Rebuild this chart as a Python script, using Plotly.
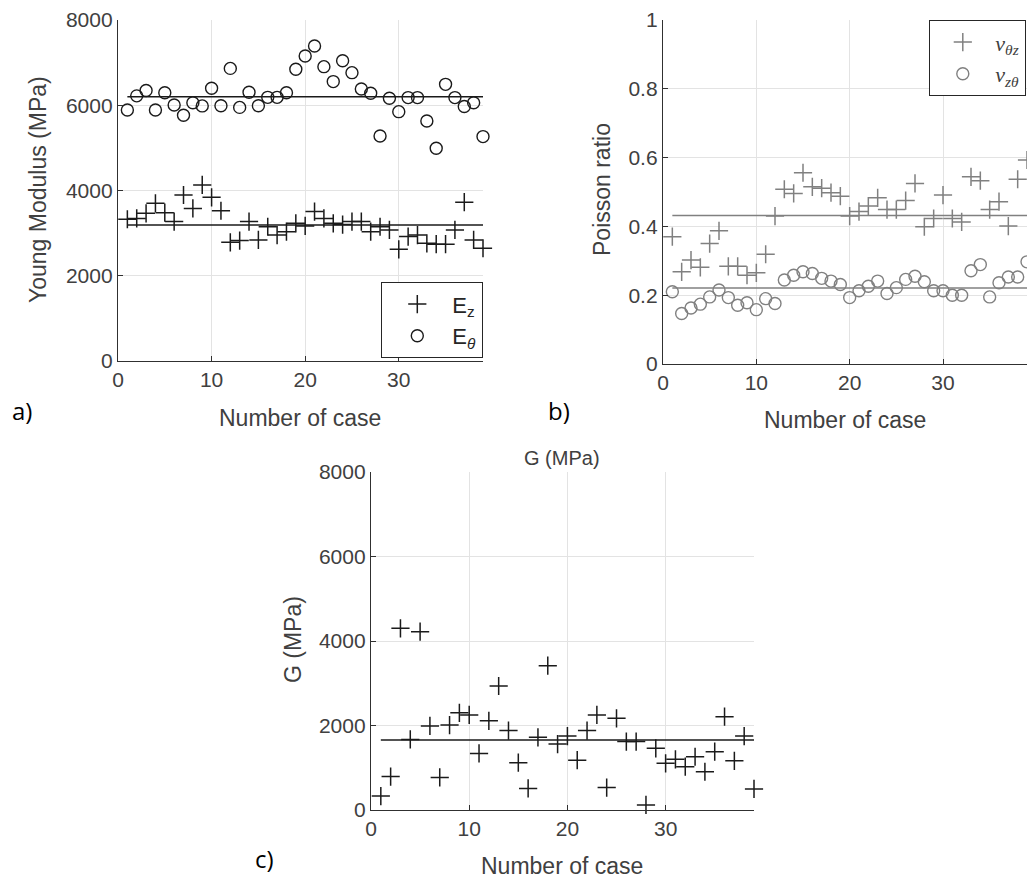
import plotly.graph_objects as go

# ---------------- data ----------------
cases = list(range(1, 40))

E_z = [3325, 3345, 3465, 3700, 3480, 3270, 3895, 3580, 4130, 3840, 3525, 2785, 2825,
       3270, 2840, 3150, 2955, 3035, 3230, 3170, 3505, 3345, 3230, 3200, 3270, 3270,
       3035, 3150, 3075, 2620, 2920, 2955, 2760, 2740, 2740, 3075, 3725, 2840, 2645]
E_theta = [5890, 6220, 6345, 5890, 6295, 6005, 5765, 6060, 5985, 6400, 5990, 6865, 5950,
           6305, 5990, 6185, 6185, 6295, 6845, 7155, 7390, 6905, 6555, 7045, 6765, 6380,
           6280, 5280, 6165, 5850, 6180, 6180, 5630, 4990, 6490, 6180, 5970, 6060, 5265]
nu_thz = [0.370, 0.268, 0.302, 0.281, 0.350, 0.387, 0.284, 0.284, 0.258, 0.265, 0.319,
          0.430, 0.508, 0.496, 0.556, 0.515, 0.511, 0.498, 0.488, 0.430, 0.443, 0.459,
          0.483, 0.449, 0.449, 0.475, 0.525, 0.399, 0.423, 0.491, 0.423, 0.413, 0.544,
          0.533, 0.449, 0.472, 0.401, 0.537, 0.593]
nu_zth = [0.210, 0.147, 0.163, 0.174, 0.195, 0.215, 0.193, 0.171, 0.178, 0.158, 0.190,
          0.176, 0.244, 0.258, 0.268, 0.263, 0.249, 0.241, 0.231, 0.193, 0.213, 0.226,
          0.241, 0.205, 0.222, 0.246, 0.255, 0.239, 0.213, 0.213, 0.200, 0.200, 0.271,
          0.289, 0.195, 0.236, 0.253, 0.253, 0.297]
G = [330, 790, 4300, 1670, 4220, 1990, 770, 2010, 2300, 2250, 1340, 2110, 2935, 1880,
     1120, 510, 1720, 3415, 1560, 1750, 1180, 1880, 2250, 530, 2170, 1620, 1620, 120,
     1460, 1105, 1200, 1025, 1260, 905, 1380, 2210, 1165, 1750, 500]

mean_E_z = 3190
mean_E_theta = 6200
mean_nu_thz = 0.432
mean_nu_zth = 0.221
mean_G = 1657

young_ticks = [0, 2000, 4000, 6000, 8000]
poisson_ticks = [0, 0.2, 0.4, 0.6, 0.8, 1]
case_ticks = [0, 10, 20, 30]

# ---------------- style ----------------
W, H = 1027, 881
FONT = "Liberation Sans, Arial, sans-serif"
TXT = "#404040"
BLACK = "#1a1a1a"
GRAY = "#808080"
TICK_SIZE = 21
TITLE_SIZE = 23


def px(x):
    return x / W


def py(y):
    return 1 - y / H


fig = go.Figure()

# Panel a
fig.add_trace(go.Scatter(x=cases, y=E_z, mode="markers", name="E<sub>z</sub>",
                         marker=dict(symbol="cross-thin-open", size=13, color=BLACK,
                                     line=dict(width=1.5, color=BLACK)),
                         xaxis="x", yaxis="y", legend="legend", cliponaxis=False))
fig.add_trace(go.Scatter(x=cases, y=E_theta, mode="markers", name="E<sub><i>θ</i></sub>",
                         marker=dict(symbol="circle-open", size=12, color=BLACK,
                                     line=dict(width=1.4, color=BLACK)),
                         xaxis="x", yaxis="y", legend="legend", cliponaxis=False))
fig.add_trace(go.Scatter(x=[cases[0], cases[-1]], y=[mean_E_z, mean_E_z], mode="lines",
                         line=dict(color=BLACK, width=1.5), showlegend=False,
                         xaxis="x", yaxis="y"))
fig.add_trace(go.Scatter(x=[cases[0], cases[-1]], y=[mean_E_theta, mean_E_theta], mode="lines",
                         line=dict(color=BLACK, width=1.5), showlegend=False,
                         xaxis="x", yaxis="y"))

# Panel b
fig.add_trace(go.Scatter(x=cases, y=nu_thz, mode="markers",
                         name="<i>ν</i><sub><i>θz</i></sub>",
                         marker=dict(symbol="cross-thin-open", size=13, color=GRAY,
                                     line=dict(width=1.5, color=GRAY)),
                         xaxis="x2", yaxis="y2", legend="legend2", cliponaxis=False))
fig.add_trace(go.Scatter(x=cases, y=nu_zth, mode="markers",
                         name="<i>ν</i><sub><i>zθ</i></sub>",
                         marker=dict(symbol="circle-open", size=12, color=GRAY,
                                     line=dict(width=1.4, color=GRAY)),
                         xaxis="x2", yaxis="y2", legend="legend2", cliponaxis=False))
fig.add_trace(go.Scatter(x=[cases[0], cases[-1]], y=[mean_nu_thz, mean_nu_thz], mode="lines",
                         line=dict(color=GRAY, width=1.5), showlegend=False,
                         xaxis="x2", yaxis="y2"))
fig.add_trace(go.Scatter(x=[cases[0], cases[-1]], y=[mean_nu_zth, mean_nu_zth], mode="lines",
                         line=dict(color=GRAY, width=1.5), showlegend=False,
                         xaxis="x2", yaxis="y2"))

# Panel c
fig.add_trace(go.Scatter(x=cases, y=G, mode="markers", name="G",
                         marker=dict(symbol="cross-thin-open", size=13, color=BLACK,
                                     line=dict(width=1.5, color=BLACK)),
                         xaxis="x3", yaxis="y3", showlegend=False, cliponaxis=False))
fig.add_trace(go.Scatter(x=[cases[0], cases[-1]], y=[mean_G, mean_G], mode="lines",
                         line=dict(color=BLACK, width=1.5), showlegend=False,
                         xaxis="x3", yaxis="y3"))


def xaxis(domain, anchor):
    return dict(domain=domain, anchor=anchor, range=[0, 39], tickvals=case_ticks,
                showgrid=True, gridcolor="#e3e3e3", gridwidth=1, zeroline=False,
                showline=True, linecolor="#303030", linewidth=1.3,
                ticks="inside", ticklen=5, tickcolor="#303030", automargin=False,
                tickfont=dict(family=FONT, size=TICK_SIZE, color=TXT))


def yaxis(domain, anchor, rng, tickvals):
    return dict(domain=domain, anchor=anchor, range=rng, tickvals=tickvals,
                showgrid=True, gridcolor="#e3e3e3", gridwidth=1, zeroline=False,
                showline=True, linecolor="#303030", linewidth=1.3,
                ticks="inside", ticklen=5, tickcolor="#303030", automargin=False,
                tickfont=dict(family=FONT, size=TICK_SIZE, color=TXT))


fig.update_layout(
    width=W, height=H,
    margin=dict(l=0, r=0, t=0, b=0, pad=0, autoexpand=False),
    paper_bgcolor="white", plot_bgcolor="white",
    font=dict(family=FONT, color=TXT),
    xaxis=xaxis([px(118), px(483)], "y"),
    yaxis=yaxis([py(361), py(20)], "x", [0, 8000], young_ticks),
    xaxis2=xaxis([px(663), 1.0], "y2"),
    yaxis2=yaxis([py(364), py(20)], "x2", [0, 1], poisson_ticks),
    xaxis3=xaxis([px(371), px(754)], "y3"),
    yaxis3=yaxis([py(810), py(472)], "x3", [0, 8000], young_ticks),
    legend=dict(x=px(483), y=py(358), xanchor="right", yanchor="bottom",
                bgcolor="white", bordercolor="#262626", borderwidth=1.3,
                font=dict(family=FONT, size=22, color="#262626"),
                itemwidth=60, tracegroupgap=0),
    legend2=dict(x=px(1026), y=py(20), xanchor="right", yanchor="top",
                 bgcolor="white", bordercolor="#262626", borderwidth=1.3,
                 font=dict(family="Liberation Serif, serif", size=22, color="#404040"),
                 itemwidth=55, tracegroupgap=0),
)

annotations = [
    # axis titles
    dict(text="Young Modulus (MPa)", x=px(38), y=py(190), textangle=-90,
         font=dict(size=TITLE_SIZE)),
    dict(text="Number of case", x=px(300), y=py(418), font=dict(size=TITLE_SIZE)),
    dict(text="Poisson ratio", x=px(602), y=py(190), textangle=-90,
         font=dict(size=TITLE_SIZE)),
    dict(text="Number of case", x=px(845), y=py(420), font=dict(size=TITLE_SIZE)),
    dict(text="G (MPa)", x=px(293), y=py(640), textangle=-90, font=dict(size=TITLE_SIZE)),
    dict(text="Number of case", x=px(562), y=py(866), font=dict(size=TITLE_SIZE)),
    dict(text="G (MPa)", x=px(562), y=py(458), font=dict(size=20)),
    # panel labels
    dict(text="a)", x=px(22), y=py(410), font=dict(size=24, color="black",
                                                    family="Open Sans, Liberation Sans")),
    dict(text="b)", x=px(559), y=py(410), font=dict(size=24, color="black",
                                                     family="Open Sans, Liberation Sans")),
    dict(text="c)", x=px(264), y=py(858), font=dict(size=24, color="black",
                                                     family="Open Sans, Liberation Sans")),
]
for a in annotations:
    a.update(xref="paper", yref="paper", showarrow=False, xanchor="center", yanchor="middle")
    a["font"].setdefault("family", FONT)
    a["font"].setdefault("color", TXT)
fig.update_layout(annotations=annotations)

fig.write_html("out.html",
               config={"displayModeBar": False},
               post_script="document.body.style.margin='0';document.body.style.overflow='hidden';")
